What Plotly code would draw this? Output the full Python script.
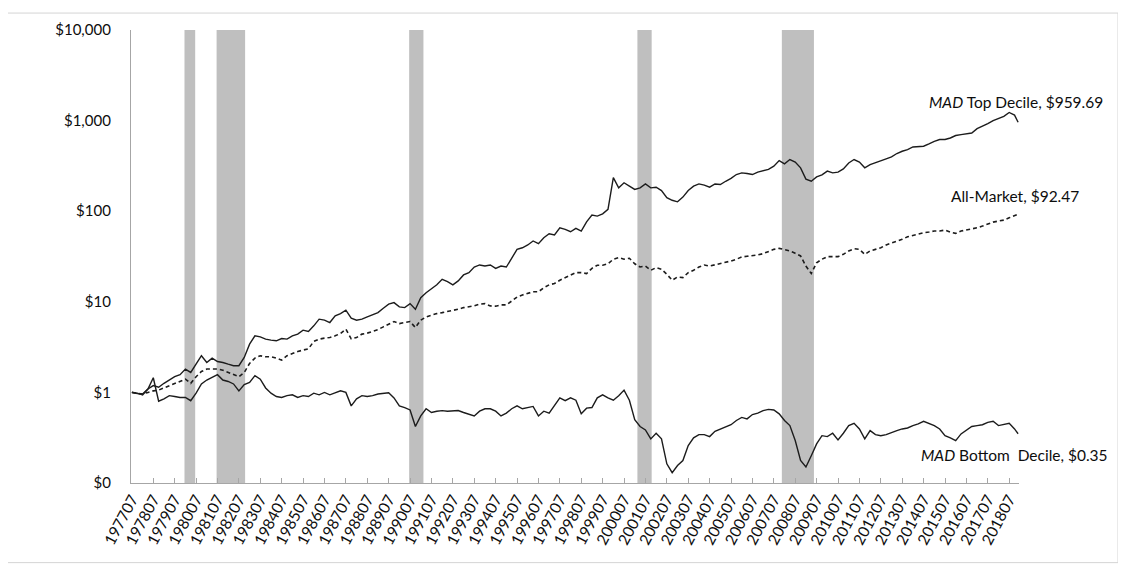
import plotly.graph_objects as go

# ---- categories (monthly, 197707 .. 201812) ----
months = [f"{y}{m:02d}" for y in range(1977, 2019) for m in range(1, 13)][6:]
sample_dates = months[::3] + [months[-1]]
tick_labels = months[::12]

y_tick_values = [0.1, 1, 10, 100, 1000, 10000]
y_tick_labels = ["$0", "$1", "$10", "$100", "$1,000", "$10,000"]

recession_start = ["198001", "198107", "199007", "200103", "200712"]
recession_end = ["198007", "198211", "199103", "200111", "200906"]

# ---- series values (growth of $1), read at sample_dates ----
top_decile = [
    1.00, 0.97, 0.96, 1.09, 1.19, 1.14, 1.26, 1.37, 1.49, 1.57,
    1.81, 1.66, 2.05, 2.54, 2.14, 2.39, 2.19, 2.14, 2.05, 1.97,
    1.97, 2.43, 3.41, 4.21, 4.10, 3.87, 3.78, 3.71, 3.93, 3.87,
    4.21, 4.40, 4.86, 4.70, 5.43, 6.43, 6.27, 5.90, 7.00, 7.41,
    8.08, 6.60, 6.27, 6.43, 6.82, 7.17, 7.60, 8.50, 9.41, 9.80,
    8.79, 8.63, 9.55, 8.28, 11.1, 12.6, 13.8, 15.4, 17.7, 16.7,
    15.4, 17.0, 19.8, 21.0, 24.2, 25.5, 24.8, 25.5, 23.4, 24.8,
    24.2, 30.7, 37.9, 39.5, 42.4, 46.9, 43.8, 50.9, 56.4, 54.6,
    65.6, 63.0, 59.3, 64.7, 60.4, 76.4, 90.6, 88.3, 93.6, 105,
    235, 181, 206, 189, 174, 181, 200, 181, 184, 169,
    141, 132, 127, 143, 169, 189, 200, 194, 184, 200,
    197, 214, 230, 254, 265, 261, 254, 270, 277, 289,
    314, 362, 333, 372, 348, 301, 226, 214, 239, 252,
    277, 265, 270, 293, 341, 372, 348, 301, 327, 341,
    356, 378, 397, 433, 459, 479, 512, 521, 521, 552,
    591, 618, 618, 643, 684, 701, 719, 730, 816, 865,
    926, 1000, 1052, 1115, 1230, 1150, 959.69,
]

all_market = [
    1.00, 0.98, 0.96, 1.00, 1.04, 1.06, 1.12, 1.19, 1.24, 1.32,
    1.40, 1.26, 1.49, 1.70, 1.81, 1.81, 1.81, 1.76, 1.66, 1.57,
    1.49, 1.66, 2.09, 2.39, 2.54, 2.47, 2.47, 2.39, 2.27, 2.54,
    2.69, 2.83, 2.93, 3.03, 3.65, 3.87, 3.97, 4.03, 4.21, 4.47,
    4.99, 3.90, 4.03, 4.40, 4.51, 4.70, 4.94, 5.29, 5.67, 6.05,
    5.75, 5.90, 6.05, 5.20, 6.27, 6.82, 7.17, 7.41, 7.60, 7.80,
    7.94, 8.28, 8.63, 8.79, 9.01, 9.41, 9.55, 9.01, 8.95, 9.25,
    9.25, 10.2, 11.3, 11.9, 12.3, 12.9, 12.9, 14.3, 15.4, 15.9,
    17.3, 18.5, 19.8, 21.0, 21.0, 20.5, 23.4, 25.3, 25.3, 26.3,
    29.5, 30.7, 29.5, 30.2, 26.3, 24.2, 24.8, 22.3, 23.8, 22.9,
    20.1, 17.3, 18.8, 18.5, 21.0, 22.3, 24.2, 25.5, 24.8, 25.5,
    26.3, 27.0, 28.2, 29.5, 31.2, 31.8, 32.1, 32.9, 34.0, 35.7,
    37.9, 38.9, 37.9, 36.4, 34.3, 32.1, 24.8, 20.5, 27.0, 29.5,
    31.5, 31.5, 31.5, 33.4, 36.4, 38.5, 37.9, 33.4, 36.4, 37.9,
    39.5, 42.4, 44.2, 46.5, 48.9, 52.2, 54.1, 55.5, 57.8, 58.9,
    60.4, 60.4, 61.9, 58.9, 56.9, 60.4, 61.9, 64.0, 65.6, 68.5,
    72.6, 75.8, 77.8, 79.8, 84.6, 89.9, 92.47,
]

bottom_decile = [
    1.00, 0.98, 0.94, 1.09, 1.45, 0.80, 0.85, 0.92, 0.90, 0.88,
    0.88, 0.81, 0.98, 1.24, 1.37, 1.46, 1.57, 1.37, 1.32, 1.24,
    1.04, 1.22, 1.29, 1.53, 1.40, 1.12, 0.98, 0.90, 0.88, 0.92,
    0.94, 0.88, 0.92, 0.90, 0.98, 0.94, 1.00, 0.94, 0.98, 1.04,
    1.00, 0.71, 0.85, 0.92, 0.90, 0.92, 0.96, 0.98, 0.99, 0.87,
    0.71, 0.68, 0.64, 0.42, 0.55, 0.66, 0.60, 0.62, 0.63, 0.62,
    0.62, 0.63, 0.60, 0.58, 0.55, 0.62, 0.66, 0.66, 0.62, 0.55,
    0.59, 0.66, 0.71, 0.66, 0.68, 0.70, 0.55, 0.62, 0.59, 0.71,
    0.87, 0.81, 0.87, 0.82, 0.58, 0.67, 0.68, 0.87, 0.94, 0.87,
    0.82, 0.92, 1.06, 0.82, 0.50, 0.42, 0.385, 0.307, 0.354, 0.307,
    0.163, 0.13, 0.156, 0.177, 0.259, 0.315, 0.342, 0.342, 0.325, 0.372,
    0.395, 0.42, 0.44, 0.49, 0.53, 0.51, 0.57, 0.59, 0.63, 0.65,
    0.64, 0.58, 0.49, 0.43, 0.294, 0.177, 0.15, 0.20, 0.270, 0.333,
    0.325, 0.354, 0.299, 0.354, 0.43, 0.456, 0.395, 0.307, 0.379, 0.342,
    0.333, 0.342, 0.363, 0.379, 0.395, 0.405, 0.43, 0.449, 0.48, 0.456,
    0.43, 0.395, 0.333, 0.315, 0.294, 0.348, 0.379, 0.42, 0.43, 0.44,
    0.467, 0.48, 0.43, 0.44, 0.456, 0.395, 0.35,
]

assert len(top_decile) == len(sample_dates)
assert len(all_market) == len(sample_dates)
assert len(bottom_decile) == len(sample_dates)

pos = {m: i for i, m in enumerate(months)}
xs = [pos[d] for d in sample_dates]

LINE = "#1c1c1c"
AXIS = "#A6A6A6"
FONT = "Lato"
TXT = "#0d0d0d"

fig = go.Figure()
fig.add_trace(go.Scatter(x=xs, y=top_decile, mode="lines", name="MAD Top Decile",
                         line=dict(color=LINE, width=1.4)))
fig.add_trace(go.Scatter(x=xs, y=all_market, mode="lines", name="All-Market",
                         line=dict(color=LINE, width=1.6, dash="4px,3px")))
fig.add_trace(go.Scatter(x=xs, y=bottom_decile, mode="lines", name="MAD Bottom Decile",
                         line=dict(color=LINE, width=1.4)))

shapes = []
for s, e in zip(recession_start, recession_end):
    shapes.append(dict(type="rect", xref="x", yref="y domain",
                       x0=pos[s] - 0.5, x1=pos[e] - 0.5, y0=0, y1=1,
                       fillcolor="#BFBFBF", line=dict(width=0), layer="below"))
# outer chart-area border
shapes.append(dict(type="rect", xref="paper", yref="paper",
                   x0=-0.1419, x1=1.1115, y0=-0.1758, y1=1.0374,
                   line=dict(color="#D4D4D4", width=1), fillcolor="rgba(0,0,0,0)",
                   layer="below"))

annotations = [
    dict(text="<i>MAD</i> Top Decile, $959.69", xref="paper", yref="paper",
         x=1.0968, y=0.840, xanchor="right", yanchor="middle", showarrow=False),
    dict(text="All-Market, $92.47", xref="paper", yref="paper",
         x=1.0698, y=0.633, xanchor="right", yanchor="middle", showarrow=False),
    dict(text="<i>MAD</i> Bottom  Decile, $0.35", xref="paper", yref="paper",
         x=1.1025, y=0.0615, xanchor="right", yanchor="middle", showarrow=False),
]

# the page body has an 8px default margin, so the figure is 8px smaller
fig.update_layout(
    width=1118, height=560,
    margin=dict(l=123, r=107, t=20, b=85),
    paper_bgcolor="white", plot_bgcolor="white",
    showlegend=False,
    font=dict(family=FONT, size=15.5, color=TXT),
    shapes=shapes,
    annotations=annotations,
    xaxis=dict(range=[-0.5, 497.5], tickmode="array",
               tickvals=[pos[t] for t in tick_labels], ticktext=tick_labels,
               tickangle=-62, ticks="inside", ticklen=5, tickwidth=1, tickcolor=AXIS,
               showline=True, linecolor=AXIS, linewidth=1.3,
               showgrid=False, zeroline=False,
               tickfont=dict(family=FONT, size=15.5, color=TXT)),
    yaxis=dict(type="log", range=[-1, 4], tickmode="array",
               tickvals=y_tick_values, ticktext=y_tick_labels,
               ticks="", showline=True, linecolor=AXIS, linewidth=1.3,
               showgrid=False, zeroline=False, ticklabelstandoff=16,
               tickfont=dict(family=FONT, size=15, color=TXT)),
)

fig.write_html("out.html")
